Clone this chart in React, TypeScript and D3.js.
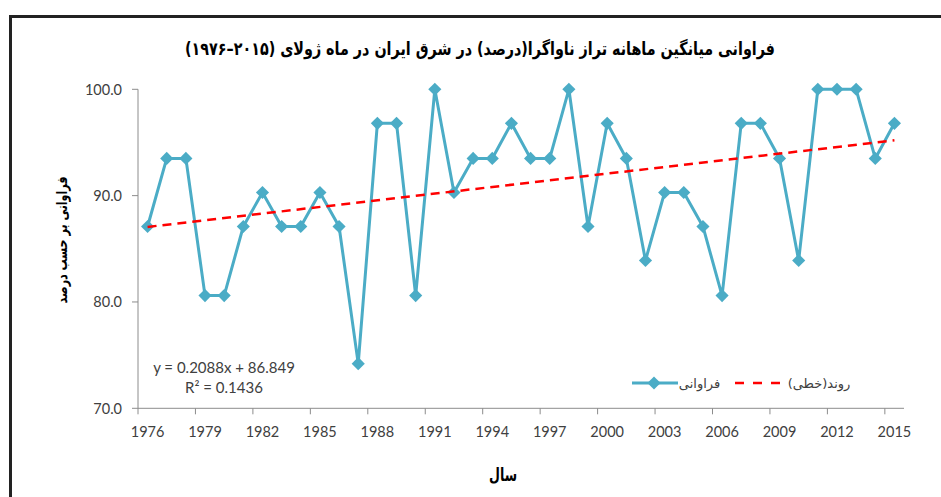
import React from "react";
import * as d3 from "d3";

const years: number[] = d3.range(1976, 2016);
const values: number[] = [
  87.1, 93.5, 93.5, 80.6, 80.6, 87.1, 90.3, 87.1, 87.1, 90.3,
  87.1, 74.2, 96.8, 96.8, 80.6, 100, 90.3, 93.5, 93.5, 96.8,
  93.5, 93.5, 100, 87.1, 96.8, 93.5, 83.9, 90.3, 90.3, 87.1,
  80.6, 96.8, 96.8, 93.5, 83.9, 100, 100, 100, 93.5, 96.8,
];
const yTicks: number[] = [70, 80, 90, 100];
const trendSlope = 0.2088;
const trendIntercept = 86.849;

const titleText = "فراوانی میانگین ماهانه تراز ناواگرا(درصد) در شرق ایران در ماه ژولای (۲۰۱۵–۱۹۷۶)";
const yLabel = "فراوانی بر حسب درصد";
const xLabel = "سال";
const seriesName = "فراوانی";
const trendName = "روند(خطی)";
const eqLine1 = "y = 0.2088x + 86.849";
const eqLine2 = "R² = 0.1436";

const W = 941;
const H = 497;
const left = 138;
const right = 904;
const top = 89.3;
const bottom = 408.3;

const blue = "#4BACC6";
const axisColor = "#8c8c8c";
const tickText = "#404040";
const latin = "Lato, 'Liberation Sans', sans-serif";
const persian = "'DejaVu Sans', sans-serif";

export default function App() {
  const x = d3.scaleBand<number>().domain(years).range([left, right]).padding(0);
  const y = d3.scaleLinear().domain([70, 100]).range([bottom, top]);
  const cx = (yr: number) => (x(yr) as number) + x.bandwidth() / 2;

  const line = d3
    .line<number>()
    .x((_, i) => cx(years[i]))
    .y((v) => y(v));

  const x0 = 1;
  const x1 = years.length;
  const trendPts: [number, number][] = [
    [cx(years[0]), y(trendIntercept + trendSlope * x0)],
    [cx(years[years.length - 1]), y(trendIntercept + trendSlope * x1)],
  ];

  const diamond = d3.symbol().type(d3.symbolDiamond2).size(110)() as string;
  const fmt = d3.format(".1f");

  const tickIdx = years.map((_, i) => i).filter((i) => i % 3 === 0);

  return (
    <svg
      width={W}
      height={H}
      style={{ position: "absolute", left: 0, top: 0, background: "#fff" }}
    >
      <rect x={0} y={0} width={W} height={H} fill="#fff" />
      {/* outer frame */}
      <rect
        x={10.5}
        y={16.5}
        width={W + 20}
        height={H + 20}
        fill="none"
        stroke="#222"
        strokeWidth={3}
      />
      {/* title */}
      <text
        x={480}
        y={55}
        textAnchor="middle"
        direction="rtl"
        fontFamily={persian}
        fontWeight="bold"
        fontSize={18}
        textLength={590}
        lengthAdjust="spacingAndGlyphs"
        fill="#000"
      >
        {titleText}
      </text>

      {/* y axis */}
      <line x1={left} x2={left} y1={top} y2={bottom} stroke={axisColor} strokeWidth={1} />
      {yTicks.map((t) => (
        <g key={t}>
          <line x1={left - 6} x2={left} y1={y(t)} y2={y(t)} stroke={axisColor} />
          <text
            x={122}
            y={y(t)}
            dy="0.36em"
            textAnchor="end"
            fontFamily={latin}
            fontSize={14.5}
            fill={tickText}
          >
            {fmt(t)}
          </text>
        </g>
      ))}

      {/* x axis */}
      <line x1={left} x2={right} y1={bottom} y2={bottom} stroke={axisColor} strokeWidth={1} />
      {tickIdx.map((i) => (
        <g key={years[i]}>
          <line
            x1={x(years[i]) as number}
            x2={x(years[i]) as number}
            y1={bottom}
            y2={bottom + 6}
            stroke={axisColor}
          />
          <text
            x={cx(years[i])}
            y={436.5}
            textAnchor="middle"
            fontFamily={latin}
            fontSize={14.5}
            fill={tickText}
          >
            {years[i]}
          </text>
        </g>
      ))}

      {/* axis titles */}
      <text
        transform={`translate(67,240) rotate(-90)`}
        textAnchor="middle"
        direction="rtl"
        fontFamily={persian}
        fontWeight="bold"
        fontSize={15}
        textLength={127}
        lengthAdjust="spacingAndGlyphs"
        fill="#000"
      >
        {yLabel}
      </text>
      <text
        x={503}
        y={481}
        textAnchor="middle"
        direction="rtl"
        fontFamily={persian}
        fontWeight="bold"
        fontSize={18}
        textLength={28}
        lengthAdjust="spacingAndGlyphs"
        fill="#000"
      >
        {xLabel}
      </text>

      {/* series */}
      <path d={line(values) as string} fill="none" stroke={blue} strokeWidth={3} strokeLinejoin="round" />
      {values.map((v, i) => (
        <path key={i} d={diamond} transform={`translate(${cx(years[i])},${y(v)})`} fill={blue} />
      ))}

      {/* trend */}
      <line
        x1={trendPts[0][0]}
        y1={trendPts[0][1]}
        x2={trendPts[1][0]}
        y2={trendPts[1][1]}
        stroke="#FF0000"
        strokeWidth={2.5}
        strokeDasharray="9,6"
      />

      {/* equation */}
      <text x={224} y={372.5} textAnchor="middle" fontFamily={latin} fontSize={15} fill={tickText}>
        {eqLine1}
      </text>
      <text x={224} y={392.5} textAnchor="middle" fontFamily={latin} fontSize={15} fill={tickText}>
        {eqLine2}
      </text>

      {/* legend */}
      <line x1={632} x2={678} y1={383} y2={383} stroke={blue} strokeWidth={3} />
      <path d={diamond} transform={`translate(654,383)`} fill={blue} />
      <text
        x={699.5}
        y={388}
        textAnchor="middle"
        direction="rtl"
        fontFamily={persian}
        fontSize={13}
        fill={tickText}
      >
        {seriesName}
      </text>
      <line
        x1={735}
        x2={780}
        y1={383}
        y2={383}
        stroke="#FF0000"
        strokeWidth={2.5}
        strokeDasharray="9,9"
      />
      <text
        x={819}
        y={388}
        textAnchor="middle"
        direction="rtl"
        fontFamily={persian}
        fontSize={13}
        fill={tickText}
      >
        {trendName}
      </text>
    </svg>
  );
}
